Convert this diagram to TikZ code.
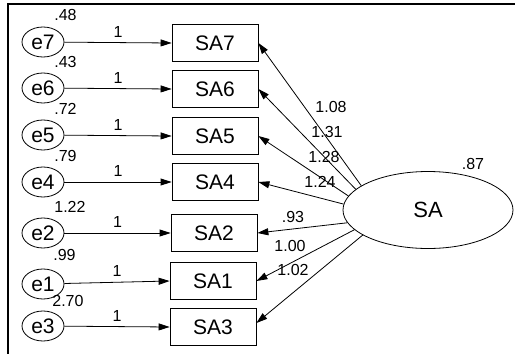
\documentclass[tikz,border=0pt]{standalone}
\usepackage{fontspec}
\setmainfont{Liberation Sans}
\usetikzlibrary{arrows.meta, shapes.geometric}

\begin{document}
\begin{tikzpicture}[x=1pt, y=-1pt, line width=0.8pt,
    >={Triangle[length=11pt, width=7pt]},
    err/.style={draw, black, ellipse, minimum width=42pt, minimum height=30pt, inner sep=0pt, font=\fontsize{21}{23}\selectfont},
    obs/.style={draw, black, rectangle, minimum width=86pt, minimum height=37pt, inner sep=0pt, font=\fontsize{21}{23}\selectfont},
    lat/.style={draw, black, ellipse, minimum width=170pt, minimum height=77pt, inner sep=0pt, font=\fontsize{22}{24}\selectfont},
    num/.style={black, inner sep=0pt, font=\fontsize{16}{18}\selectfont}]
    \useasboundingbox (0,0) rectangle (515,354);
    \draw[black, line width=1.5pt] (8,354) -- (8,4) -- (515,4);
    %
    \node[err] (e7) at (43,42) {e7};
    \node[err] (e6) at (43,88) {e6};
    \node[err] (e5) at (43,135) {e5};
    \node[err] (e4) at (43,182) {e4};
    \node[err] (e2) at (43,233) {e2};
    \node[err] (e1) at (43,284) {e1};
    \node[err] (e3) at (43,326) {e3};
    %
    \node[obs] (SA7) at (215,43) {SA7};
    \node[obs] (SA6) at (215,89) {SA6};
    \node[obs] (SA5) at (215,136) {SA5};
    \node[obs] (SA4) at (215,182) {SA4};
    \node[obs] (SA2) at (214,233) {SA2};
    \node[obs] (SA1) at (213,281) {SA1};
    \node[obs] (SA3) at (213,327) {SA3};
    %
    \node[lat] (SA) at (428,210) {SA};
    \node[num] (vSA) at (473,164) {.87};
    %
    \node[num, anchor=south west] (v7) at ([xshift=11pt, yshift=6pt]e7.north) {.48};
    \node[num, anchor=south west] (v6) at ([xshift=11pt, yshift=5pt]e6.north) {.43};
    \node[num, anchor=south west] (v5) at ([xshift=11pt, yshift=5pt]e5.north) {.72};
    \node[num, anchor=south west] (v4) at ([xshift=11pt, yshift=5pt]e4.north) {.79};
    \node[num, anchor=south west] (v2) at ([xshift=11pt, yshift=5pt]e2.north) {1.22};
    \node[num, anchor=south west] (v1) at ([xshift=10pt, yshift=8pt]e1.north) {.99};
    \node[num, anchor=south west] (v3) at ([xshift=9pt, yshift=4pt]e3.north) {2.70};
    %
    \draw[black, ->] (e7) -- (SA7.west) node[num, midway, above=5pt] {1};
    \draw[black, ->] (e6) -- (SA6.west) node[num, midway, above=5pt] {1};
    \draw[black, ->] (e5) -- (SA5.west) node[num, midway, above=5pt] {1};
    \draw[black, ->] (e4) -- (SA4.west) node[num, midway, above=5pt] {1};
    \draw[black, ->] (e2) -- (SA2.west) node[num, midway, above=5pt] {1};
    \draw[black, ->] (e1) -- (SA1.west) node[num, midway, above=5pt] {1};
    \draw[black, ->] (e3) -- (SA3.west) node[num, midway, above=5pt] {1};
    %
    \draw[black, ->] (SA.160) -- (SA7.east);
    \draw[black, ->] (SA.164) -- (SA6.east);
    \draw[black, ->] (SA.170) -- (SA5.east);
    \draw[black, ->] (SA.176) -- (SA4.east);
    \draw[black, ->] (SA.189) -- (SA2.east);
    \draw[black, ->] (SA.195) -- (SA1.east);
    \draw[black, ->] (SA.201) -- ([yshift=4pt]SA3.east);
    %
    \node[num] (l7) at (331,107) {1.08};
    \node[num] (l6) at (327,132) {1.31};
    \node[num] (l5) at (324,157) {1.28};
    \node[num] (l4) at (320,182) {1.24};
    \node[num] (l2) at (293,217) {.93};
    \node[num] (l1) at (290,246) {1.00};
    \node[num] (l3) at (293,270) {1.02};
\end{tikzpicture}
\end{document}
